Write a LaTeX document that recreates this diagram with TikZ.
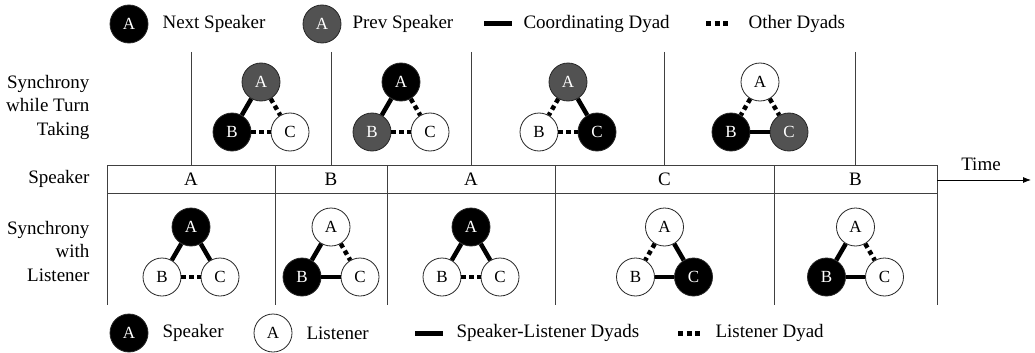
\documentclass[tikz,border=0pt]{standalone}
\usepackage{fontspec}
\setmainfont{Liberation Serif}
\usetikzlibrary{arrows.meta,calc}
\newcommand{\triad}[9]{%
  \node[#4] (#1A) at (#2,#3) {A};
  \node[#5] (#1B) at (#2-29,#3+50) {B};
  \node[#6] (#1C) at (#2+29,#3+50) {C};
  \draw[#7] (#1A) -- (#1B);
  \draw[#8] (#1A) -- (#1C);
  \draw[#9] (#1B) -- (#1C);
}
\begin{document}
\begin{tikzpicture}[x=1pt,y=-1pt,
  every node/.style={font=\fontsize{19}{23.5}\selectfont},
  vtx/.style={circle,draw=black!85,line width=0.8pt,minimum size=38pt,inner sep=0pt,font=\fontsize{17}{20}\selectfont},
  spk/.style={vtx,fill=black,text=white},
  prv/.style={vtx,fill=black!68,text=white},
  lst/.style={vtx,fill=white,text=black},
  co/.style={line width=4.5pt},
  ot/.style={line width=4.5pt,dash pattern=on 4.5pt off 3.5pt},
  lco/.style={line width=5pt},
  lot/.style={line width=5pt,dash pattern=on 5pt off 3.5pt},
  grid/.style={draw=black!75,line width=0.8pt},
  lab/.style={align=right,anchor=east},
  leg/.style={anchor=west}
]
\useasboundingbox (0,0) rectangle (1035,353);

% ---- top legend
\node[spk] (lgA) at (129,24) {A};
\node[leg] (lgAt) at (159,24) {Next Speaker};
\node[prv] (lgP) at (322,24) {A};
\node[leg] (lgPt) at (349,24) {Prev Speaker};
\coordinate (lc1) at (484,24); \coordinate (lc2) at (512,24);
\draw[lco] (lc1) -- (lc2);
\node[leg] (lct) at (520,24) {Coordinating Dyad};
\coordinate (lo1) at (706,24); \coordinate (lo2) at (728,24);
\draw[lot] (lo1) -- (lo2);
\node[leg] (lot) at (745,24) {Other Dyads};

% ---- row labels
\node[lab] (r1) at (93,107) {Synchrony\\while Turn\\Taking};
\node[anchor=east] (r2) at (93,179) {Speaker};
\node[lab] (r3) at (93,251) {Synchrony\\with\\Listener};

% ---- table
\coordinate (tl) at (107,165); \coordinate (br) at (937,193);
\draw[grid] (tl) rectangle (br);
\foreach \x in {275,387,555,774} {\draw[grid] (\x,165) -- (\x,193);}
\foreach \x in {107,275,387,555,774,937} {\draw[grid] (\x,193) -- (\x,305);}
\foreach \x in {191,331,471,664.5,855.5} {\draw[grid] (\x,52) -- (\x,165);}

% speaker cells
\node (s1) at (191,179) {A};
\node (s2) at (331,179) {B};
\node (s3) at (471,179) {A};
\node (s4) at (664.5,179) {C};
\node (s5) at (855.5,179) {B};

% time arrow
\coordinate (ta) at (937,180); \coordinate (tb) at (1031,180);
\draw[line width=0.8pt,-{Latex[length=8pt,width=6pt]}] (ta) -- (tb);
\node (time) at (981,164) {Time};

% ---- top triads (turn taking)
\triad{t1}{261}{82}{prv}{spk}{lst}{co}{ot}{ot}
\triad{t2}{401}{82}{spk}{prv}{lst}{co}{ot}{ot}
\triad{t3}{568}{82}{prv}{lst}{spk}{ot}{co}{ot}
\triad{t4}{760}{82}{lst}{spk}{prv}{ot}{ot}{co}

% ---- bottom triads (listener)
\triad{b1}{191}{227}{spk}{lst}{lst}{co}{co}{ot}
\triad{b2}{331}{227}{lst}{spk}{lst}{co}{ot}{co}
\triad{b3}{471}{227}{spk}{lst}{lst}{co}{co}{ot}
\triad{b4}{664.5}{227}{lst}{lst}{spk}{ot}{co}{co}
\triad{b5}{855.5}{227}{lst}{spk}{lst}{co}{ot}{co}

% ---- bottom legend
\node[spk] (lbS) at (129,333) {A};
\node[leg] (lbSt) at (159,333) {Speaker};
\node[lst] (lbL) at (273,333) {A};
\node[leg] (lbLt) at (303,333) {Listener};
\coordinate (lbc1) at (415,333); \coordinate (lbc2) at (443,333);
\draw[lco] (lbc1) -- (lbc2);
\node[leg] (lbct) at (453,333) {Speaker-Listener Dyads};
\coordinate (lbo1) at (678,333); \coordinate (lbo2) at (700,333);
\draw[lot] (lbo1) -- (lbo2);
\node[leg] (lbot) at (712,333) {Listener Dyad};
\end{tikzpicture}
\end{document}
